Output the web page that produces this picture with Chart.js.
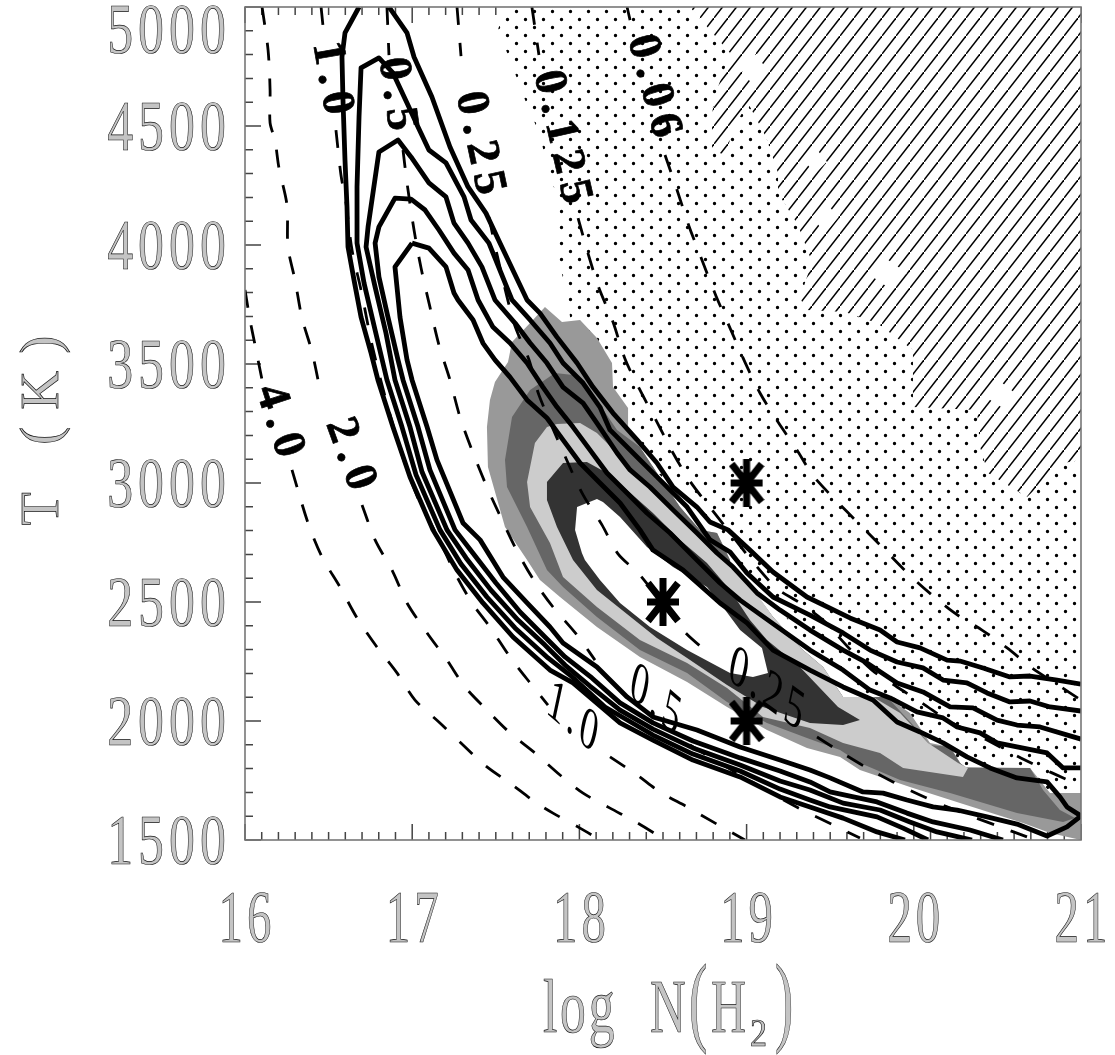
<!DOCTYPE html>
<html><head><meta charset="utf-8">
<style>html,body{margin:0;padding:0;background:#fff}canvas{display:block}</style>
<script src="https://cdn.jsdelivr.net/npm/chart.js@4"></script>
</head><body><canvas id="c" width="1115" height="1055"></canvas>
<script>
const xTickValues=[16,17,18,19,20,21];
const yTickValues=[1500,2000,2500,3000,3500,4000,4500,5000];
const starPoints=[[19,3000],[18.5,2500],[19,2000]];

const hatchRegion=[[18.661,5000],[18.817,4874],[18.901,4807],[18.829,4664],[18.793,4555],[18.793,4399],[18.871,4378],[18.931,4504],[19.008,4597],[19.116,4454],[19.188,4303],[19.188,4219],[19.307,4084],[19.391,3929],[19.319,3777],[19.361,3727],[19.588,3718],[19.78,3672],[19.995,3559],[19.995,3319],[20.378,3307],[20.396,3151],[20.444,3042],[20.677,2941],[20.893,3084],[21,3097],[21,5000]];
const dotRegion=[[17.555,5000],[17.513,4903],[17.585,4777],[17.675,4609],[17.764,4462],[17.812,4315],[17.884,4168],[17.86,3979],[17.92,3811],[17.956,3643],[18.291,3265],[18.422,3076],[18.602,2950],[18.757,2866],[18.841,2761],[18.943,2605],[19.062,2538],[19.2,2466],[19.337,2349],[19.499,2227],[19.678,2109],[19.84,2034],[19.936,1992],[20.115,1920],[20.259,1824],[20.354,1807],[20.695,1794],[20.815,1702],[21,1702],[21,5000]];
const blankA=[[18.95,4750],[19.03,4820],[19.11,4750],[19.04,4670]];
const blankB=[[19.34,4357],[19.41,4410],[19.48,4350],[19.41,4300]];
const blankC=[[19.39,4118],[19.47,4180],[19.55,4118],[19.47,4050]];
const blankD=[[19.72,3882],[19.84,3940],[19.96,3882],[19.84,3825]];
const blankE=[[20.41,3370],[20.52,3425],[20.62,3370],[20.52,3320]];

const shadeOuter=[[17.794,3740],[17.896,3676],[18.004,3685],[18.105,3609],[18.195,3504],[18.201,3403],[18.291,3315],[18.291,3214],[18.362,3151],[18.464,3042],[18.602,2899],[18.721,2803],[18.823,2790],[18.901,2676],[18.901,2622],[19.038,2550],[19.158,2437],[19.337,2298],[19.457,2227],[19.577,2101],[19.84,2101],[19.977,2034],[20.097,1908],[20.217,1891],[20.294,1807],[20.695,1803],[20.815,1697],[21,1697],[21,1500],[20.815,1529],[20.653,1571],[20.276,1655],[19.977,1723],[19.678,1794],[19.559,1849],[19.361,1887],[19.122,1962],[18.883,2059],[18.644,2164],[18.362,2269],[18.105,2395],[17.884,2521],[17.764,2592],[17.687,2676],[17.555,2815],[17.453,3067],[17.447,3235],[17.465,3349],[17.495,3424],[17.573,3508],[17.597,3592],[17.722,3685]];
const shadeMid=[[17.854,3462],[17.962,3454],[18.063,3391],[18.225,3223],[18.362,3151],[18.464,3042],[18.602,2899],[18.721,2803],[18.823,2790],[18.901,2676],[18.901,2622],[19.038,2550],[19.158,2437],[19.337,2298],[19.457,2227],[19.577,2101],[19.84,2101],[19.995,1983],[20.097,1899],[20.217,1891],[20.276,1824],[20.318,1803],[20.695,1803],[20.773,1710],[20.874,1626],[20.964,1592],[20.893,1576],[20.617,1613],[20.217,1697],[19.918,1752],[19.678,1824],[19.559,1878],[19.361,1929],[19.122,1992],[18.883,2080],[18.644,2202],[18.362,2298],[18.105,2437],[17.902,2563],[17.806,2634],[17.687,2815],[17.567,2983],[17.555,3097],[17.597,3277],[17.705,3391]];
const shadeLight=[[17.806,3235],[17.866,3248],[18.004,3252],[18.105,3210],[18.225,3126],[18.362,3013],[18.56,2899],[18.679,2815],[18.883,2664],[19.002,2592],[19.158,2437],[19.337,2298],[19.457,2227],[19.577,2101],[19.756,2101],[19.918,2034],[20.085,1908],[20.265,1824],[20.324,1803],[20.294,1765],[19.936,1803],[19.798,1866],[19.577,1908],[19.379,1971],[19.098,2017],[18.883,2139],[18.644,2244],[18.362,2340],[18.105,2479],[17.902,2605],[17.824,2748],[17.705,2899],[17.687,3004],[17.734,3168]];
const shadeDark=[[17.806,3004],[17.902,3084],[18.045,3088],[18.165,3042],[18.285,2971],[18.44,2874],[18.602,2761],[18.763,2664],[18.901,2550],[19.02,2424],[19.122,2340],[19.319,2227],[19.547,2059],[19.678,2004],[19.577,1983],[19.379,1992],[19.098,2059],[18.883,2151],[18.644,2265],[18.464,2349],[18.105,2550],[17.962,2676],[17.866,2815],[17.806,2929]];
const shadeCore=[[17.986,2899],[18.045,2916],[18.105,2933],[18.141,2920],[18.243,2857],[18.404,2731],[18.56,2647],[18.763,2563],[18.841,2496],[18.961,2382],[19.092,2307],[19.128,2202],[19.038,2185],[18.901,2202],[18.644,2298],[18.422,2395],[18.243,2496],[18.123,2592],[18.033,2676],[18.015,2706],[17.974,2803]];

const dash4=[[16,3811],[16.03,3685],[16.06,3580],[16.108,3412],null,[16.281,3055],[16.377,2832],[16.461,2689],[16.568,2563],[16.67,2433],[16.789,2311],[16.909,2202],[17.017,2088],[17.166,1992],[17.304,1899],[17.447,1807],[17.585,1739],[17.734,1660],[17.842,1613],[18.004,1550],[18.123,1500]];
const dash2=[[16.102,5000],[16.138,4819],[16.15,4651],[16.15,4513],[16.179,4441],[16.203,4324],[16.251,4168],[16.257,3992],[16.299,3853],[16.341,3693],[16.401,3550],[16.449,3391],null,[16.7,2908],[16.778,2761],[16.885,2626],[16.969,2496],[17.089,2370],[17.208,2256],[17.316,2143],[17.447,2046],[17.585,1950],[17.734,1866],[17.884,1773],[18.022,1697],[18.183,1634],[18.35,1571],[18.494,1508]];
const dash1=[[16.455,5000],[16.466,4924],null,[16.544,4483],[16.574,4294],[16.604,4177],[16.64,3979],[16.694,3811],[16.76,3580],[16.843,3349],[16.939,3118],[17.047,2916],[17.154,2773],[17.256,2622],[17.358,2496],[17.465,2395],[17.585,2269],[17.705,2160],[17.812,2067],null,[18.183,1849],[18.345,1773],[18.482,1702],[18.644,1639],[18.799,1576],[18.99,1500]];
const dash05=[[16.849,5000],[16.861,4798],null,[16.945,4399],[16.969,4261],[17.011,4063],[17.053,3903],[17.106,3740],[17.16,3580],[17.226,3433],[17.286,3277],[17.364,3126],[17.447,2983],[17.537,2845],[17.633,2706],[17.734,2584],[17.842,2479],[17.986,2361],[18.093,2256],null,[18.661,1899],[18.961,1773],[19.277,1647],[19.457,1584],[19.678,1508]];
const dash025=[[17.268,5000],[17.292,4794],null,[17.459,4118],[17.501,3979],[17.609,3672],[17.699,3517],[17.758,3370],[17.932,3084],[18.022,2950],[18.135,2824],[18.231,2702],[18.362,2613],[18.62,2382],[18.769,2286],null,[19.421,1933],[19.571,1866],[19.72,1803],[19.876,1744],[20.037,1689],[20.199,1639],[20.516,1555],[20.677,1513]];
const dash0125=[[17.716,5000],[17.758,4798],null,[17.992,4113],[18.051,3966],[18.117,3819],[18.201,3676],[18.273,3521],[18.362,3391],[18.464,3256],[18.56,3126],[18.661,3008],[18.793,2887],[19.158,2571],[19.319,2496],[19.457,2424],[19.606,2311],[19.75,2214],[19.9,2143],[20.049,2076],[20.217,1996],[20.354,1950],[20.516,1891],[20.665,1836],[20.827,1782],[21,1727]];
const dash006=[[18.285,5000],[18.303,4945],null,[18.512,4378],[18.584,4231],[18.655,4080],[18.733,3937],[18.817,3786],[18.901,3651],[18.99,3508],[19.08,3378],[19.188,3256],[19.301,3139],[19.409,3021],[19.798,2740],[20.007,2592],[20.235,2458],[20.408,2382],[20.558,2307],[20.707,2223],[20.863,2151],[21,2088]];

const contourA=[[16.682,5000],[16.598,4891],[16.58,4790],[16.586,4609],[16.598,4357],[16.61,4160],[16.616,3992],[16.652,3853],[16.694,3697],[16.754,3546],[16.795,3433],[16.885,3235],[16.987,3025],[17.124,2803],[17.268,2634],[17.423,2496],[17.603,2353],[17.824,2214],[17.962,2160],[18.243,1992],[18.44,1920],[18.679,1836],[18.961,1765],[19.2,1681],[19.379,1639],[19.577,1592],[19.78,1534],[19.947,1500],null,[16.861,5000],[16.969,4891],[17.011,4790],[17.118,4622],[17.226,4412],[17.334,4244],[17.441,4134],[17.525,4008],[17.687,3769],[17.764,3714],[17.866,3613],[17.986,3504],[18.081,3403],[18.201,3294],[18.345,3181],[18.464,3084],[18.56,2983],[18.703,2899],[18.781,2836],[18.889,2803],[19.02,2718],[19.158,2626],[19.361,2521],[19.618,2433],[19.798,2382],[19.9,2332],[20.037,2307],[20.199,2256],[20.276,2252],[20.414,2223],[20.575,2185],[20.695,2189],[20.857,2172],[21,2155]];
const contourB=[[20.085,1500],[19.936,1550],[19.78,1597],[19.499,1639],[19.379,1668],[19.2,1714],[18.961,1790],[18.679,1861],[18.44,1941],[18.153,2059],[17.944,2193],[17.812,2265],[17.615,2391],[17.447,2521],[17.292,2660],[17.166,2803],[17.023,3034],[16.939,3235],[16.849,3433],[16.778,3643],[16.712,3840],[16.67,4008],[16.67,4244],[16.682,4538],[16.694,4744],[16.801,4786],[16.885,4723],[16.969,4597],[17.035,4496],[17.1,4399],[17.202,4345],[17.31,4202],[17.352,4105],[17.459,4008],[17.597,3769],[17.705,3685],[17.824,3588],[17.902,3504],[18.022,3420],[18.123,3319],[18.183,3223],[18.345,3109],[18.482,3013],[18.644,2899],[18.781,2761],[18.901,2710],[19.002,2622],[19.158,2521],[19.379,2445],[19.577,2370],[19.738,2298],[19.9,2248],[20.055,2223],[20.175,2172],[20.318,2160],[20.438,2118],[20.575,2080],[20.695,2084],[20.815,2059],[21,2042]];
const contourC=[[20.348,1500],[20.139,1534],[19.977,1576],[19.798,1626],[19.577,1655],[19.379,1710],[19.2,1748],[18.961,1815],[18.679,1887],[18.44,1966],[18.243,2046],[18.063,2147],[17.914,2235],[17.794,2319],[17.633,2424],[17.471,2550],[17.322,2685],[17.208,2803],[17.059,3046],[16.987,3235],[16.897,3433],[16.843,3630],[16.778,3824],[16.724,3992],[16.736,4076],[16.801,4391],[16.915,4441],[16.993,4370],[17.1,4261],[17.202,4202],[17.25,4092],[17.334,4008],[17.417,3908],[17.495,3769],[17.615,3672],[17.705,3588],[17.806,3504],[17.902,3403],[18.022,3336],[18.105,3252],[18.225,3126],[18.303,3055],[18.422,2983],[18.56,2887],[18.703,2790],[18.823,2706],[18.919,2647],[19.062,2538],[19.2,2466],[19.379,2382],[19.577,2298],[19.72,2244],[19.9,2160],[20.055,2122],[20.217,2059],[20.354,2055],[20.498,2004],[20.617,1983],[20.755,1975],[21,1924]];
const contourD=[[20.533,1500],[20.336,1542],[20.115,1576],[19.959,1613],[19.78,1660],[19.499,1702],[19.379,1744],[19.2,1790],[18.961,1845],[18.679,1916],[18.44,1992],[18.243,2076],[18.075,2181],[17.914,2269],[17.794,2353],[17.645,2458],[17.501,2580],[17.358,2710],[17.256,2803],[17.106,3055],[17.035,3235],[16.945,3433],[16.915,3517],[16.855,3697],[16.801,3866],[16.778,4008],[16.801,4076],[16.897,4197],[16.993,4193],[17.077,4147],[17.16,4063],[17.25,3966],[17.334,3895],[17.394,3769],[17.483,3655],[17.585,3588],[17.687,3504],[17.782,3403],[17.866,3319],[17.962,3235],[18.063,3139],[18.165,3042],[18.285,2958],[18.404,2874],[18.542,2790],[18.703,2676],[18.841,2580],[18.961,2508],[19.17,2403],[19.379,2298],[19.577,2214],[19.738,2130],[19.858,2097],[20.019,2038],[20.175,2013],[20.259,1975],[20.396,1950],[20.498,1908],[20.617,1891],[20.797,1866],[20.893,1803],[21,1803]];
const contourE=[[16.999,4008],[16.897,3908],[16.927,3697],[16.969,3517],[16.999,3433],[17.089,3235],[17.148,3097],[17.304,2832],[17.406,2761],[17.543,2605],[17.687,2496],[17.824,2395],[17.902,2328],[18.105,2227],[18.285,2101],[18.44,2017],[18.703,1962],[18.961,1891],[19.2,1836],[19.379,1794],[19.499,1761],[19.696,1702],[19.816,1697],[19.959,1668],[20.115,1639],[20.259,1626],[20.438,1597],[20.617,1567],[20.797,1517],[20.916,1555],[21,1601],[20.916,1639],[20.874,1681],[20.797,1744],[20.617,1761],[20.456,1803],[20.318,1849],[20.175,1908],[20.037,1954],[19.9,1996],[19.756,2088],[19.577,2143],[19.379,2214],[19.158,2298],[19.002,2412],[18.841,2496],[18.62,2634],[18.44,2718],[18.362,2803],[18.243,2916],[18.123,3000],[18.004,3084],[17.902,3181],[17.806,3273],[17.687,3349],[17.585,3445],[17.495,3517],[17.423,3588],[17.364,3685],[17.274,3769],[17.25,3798],[17.202,3908],[17.1,3987],[16.999,4008]];

const contourTexts=[
 ["1.0",16.52,4685,80,1],["0.5",16.909,4618,82,1],["0.25",17.405,4412,78,1],["0.125",17.896,4437,77,1],["0.06",18.446,4651,75,1],
 ["4.0",16.209,3244,72,1],["2.0",16.634,3105,70,1],
 ["1.0",17.968,2004,41,0],["0.5",18.464,2076,41,0],["0.25",19.128,2122,36,0]];

const toPts=a=>a.map(p=>p?{x:p[0],y:p[1]}:{x:null,y:null});
const poly=(a,fillKind)=>({data:toPts(a),showLine:false,pointRadius:0,polyFill:fillKind});
const dashed=a=>({data:toPts(a),showLine:true,pointRadius:0,borderColor:'#000',borderWidth:2.8,borderDash:[18,18],tension:.3,spanGaps:false});
const solid=a=>({data:toPts(a),showLine:true,pointRadius:0,borderColor:'#000',borderWidth:4.8,borderJoinStyle:'round',tension:0,spanGaps:false});

function tile(w,h,draw){const c=document.createElement('canvas');c.width=w;c.height=h;draw(c.getContext('2d'));return c;}
const hatchTile=tile(14,18,g=>{g.strokeStyle='#000';g.lineWidth=1.5;g.beginPath();g.moveTo(-2,20.57);g.lineTo(16,-2.57);g.stroke();});
const dotTile=tile(18,16,g=>{g.fillStyle='#000';g.beginPath();g.arc(3.5,3.5,1.7,0,7);g.arc(12.5,11.5,1.7,0,7);g.fill();});
const starMark=tile(36,52,g=>{g.strokeStyle='#000';g.lineWidth=7;g.beginPath();g.moveTo(18,2);g.lineTo(18,50);g.moveTo(2,26);g.lineTo(34,26);g.moveTo(3,7);g.lineTo(33,45);g.moveTo(33,7);g.lineTo(3,45);g.stroke();});

function putText(ctx,text,x,y,o){
 ctx.save();ctx.translate(x,y);
 if(o.lean!==undefined){const t=o.angle*Math.PI/180,l=o.lean*Math.PI/180;ctx.transform(Math.cos(t),Math.sin(t),-Math.sin(l),Math.cos(l),0,0);}
 else if(o.angle)ctx.rotate(o.angle*Math.PI/180);
 ctx.font=o.font;ctx.textAlign=o.align||'center';ctx.textBaseline=o.base||'alphabetic';
 ctx.letterSpacing=(o.spacing||0)+'px';ctx.scale(o.sx||1,1);
 if(o.fill){ctx.fillStyle=o.fill;ctx.fillText(text,0,0);}
 if(o.stroke){ctx.strokeStyle=o.stroke;ctx.lineWidth=o.lw||.8;ctx.strokeText(text,0,0);}
 ctx.restore();
}
const outline={fill:'#c4c4c4',stroke:'#111',lw:.7};

const deco={id:'deco',
 beforeDatasetsDraw(chart){
  const {ctx,scales:{x,y}}=chart,a=chart.chartArea;
  ctx.save();ctx.strokeStyle='#444';ctx.lineWidth=1.5;ctx.beginPath();
  for(let i=0;i<=50;i++){const v=16+i/10,p=x.getPixelForValue(v),l=i%10===0?16:8;
   ctx.moveTo(p,a.bottom);ctx.lineTo(p,a.bottom-l);ctx.moveTo(p,a.top);ctx.lineTo(p,a.top+l);}
  for(let i=0;i<=35;i++){const v=1500+i*100,p=y.getPixelForValue(v),l=i%5===0?16:8;
   ctx.moveTo(a.left,p);ctx.lineTo(a.left+l,p);}
  ctx.stroke();ctx.restore();
 },
 beforeDatasetDraw(chart,args){
  const ds=chart.data.datasets[args.index];if(!ds.polyFill)return;
  const ctx=chart.ctx,pts=args.meta.data;
  ctx.save();ctx.beginPath();pts.forEach((p,i)=>i?ctx.lineTo(p.x,p.y):ctx.moveTo(p.x,p.y));ctx.closePath();
  if(ds.polyFill==='hatch'||ds.polyFill==='dots'){
   ctx.fillStyle='#fff';ctx.fill();
   ctx.fillStyle=ctx.createPattern(ds.polyFill==='hatch'?hatchTile:dotTile,'repeat');ctx.fill();
  }else{ctx.fillStyle=ds.polyFill;ctx.fill();}
  ctx.restore();
 },
 afterDatasetsDraw(chart){
  const {ctx,scales:{x,y}}=chart,a=chart.chartArea;
  ctx.save();ctx.strokeStyle='#777';ctx.lineWidth=1.6;ctx.strokeRect(a.left,a.top,a.right-a.left,a.bottom-a.top);ctx.restore();
  contourTexts.forEach(([t,vx,vy,ang,heavy])=>{
   const o=heavy?{font:'bold 46px "Liberation Serif"',spacing:8,fill:'#000',stroke:'#000',lw:.7}:{font:'56px "Liberation Serif"',spacing:6,sx:.78,fill:'#000',lean:12};
   putText(ctx,t,x.getPixelForValue(vx),y.getPixelForValue(vy),{...o,angle:ang,base:'middle'});
  });
 },
 afterDraw(chart){
  const {ctx,scales:{x,y}}=chart;
  y.ticks.forEach(t=>{let p=y.getPixelForValue(t.value)+24;if(t.value===5000)p=53;
   putText(ctx,String(t.value),231,p,{font:'72px "Liberation Serif"',align:'right',sx:.72,spacing:7,...outline});});
  x.ticks.forEach(t=>{putText(ctx,String(t.value),x.getPixelForValue(t.value)+2,942,{font:'74px "Liberation Serif"',sx:.66,spacing:6,...outline});});
  putText(ctx,'T (K)',58,422,{font:'54px "Liberation Serif"',angle:-90,spacing:17,...outline});
  const f='76px "Liberation Serif"',g='100px "Liberation Serif"',h='40px "Liberation Serif"';
  [['log',543,1032,f,.68,4],['N',650,1032,f,.65,0],['(',689,1033,g,.55,0],['H',711,1032,f,.64,0],['2',750,1046,h,.85,0],[')',775,1033,g,.55,0]]
   .forEach(([s,px,b,font,sx,spacing])=>putText(ctx,s,px,b,{font,align:'left',sx,spacing,...outline}));
 }
};

const list=[poly(dotRegion,'dots'),poly(hatchRegion,'hatch'),poly(blankA,'#fff'),poly(blankB,'#fff'),poly(blankC,'#fff'),poly(blankD,'#fff'),poly(blankE,'#fff'),
 poly(shadeOuter,'#999'),poly(shadeMid,'#666'),poly(shadeLight,'#ccc'),poly(shadeDark,'#333'),poly(shadeCore,'#fff'),
 dashed(dash4),dashed(dash2),dashed(dash1),dashed(dash05),dashed(dash025),dashed(dash0125),dashed(dash006),
 solid(contourA),solid(contourB),solid(contourC),solid(contourD),solid(contourE),
 {data:toPts(starPoints),showLine:false,pointStyle:starMark,pointRadius:17}];
list.forEach((d,i)=>d.order=list.length-i);

new Chart(document.getElementById('c'),{type:'scatter',data:{datasets:list},plugins:[deco],options:{
 responsive:false,animation:false,devicePixelRatio:1,
 layout:{autoPadding:false,padding:{left:245,top:7,right:34,bottom:215}},
 plugins:{legend:{display:false},tooltip:{enabled:false}},
 scales:{
  x:{type:'linear',min:16,max:21,afterFit:s=>{s.height=0},afterBuildTicks:s=>{s.ticks=xTickValues.map(v=>({value:v}))},grid:{display:false,drawTicks:false},border:{display:false},ticks:{display:false}},
  y:{type:'linear',min:1500,max:5000,afterFit:s=>{s.width=0},afterBuildTicks:s=>{s.ticks=yTickValues.map(v=>({value:v}))},grid:{display:false,drawTicks:false},border:{display:false},ticks:{display:false}}
 }}});
</script></body></html>
